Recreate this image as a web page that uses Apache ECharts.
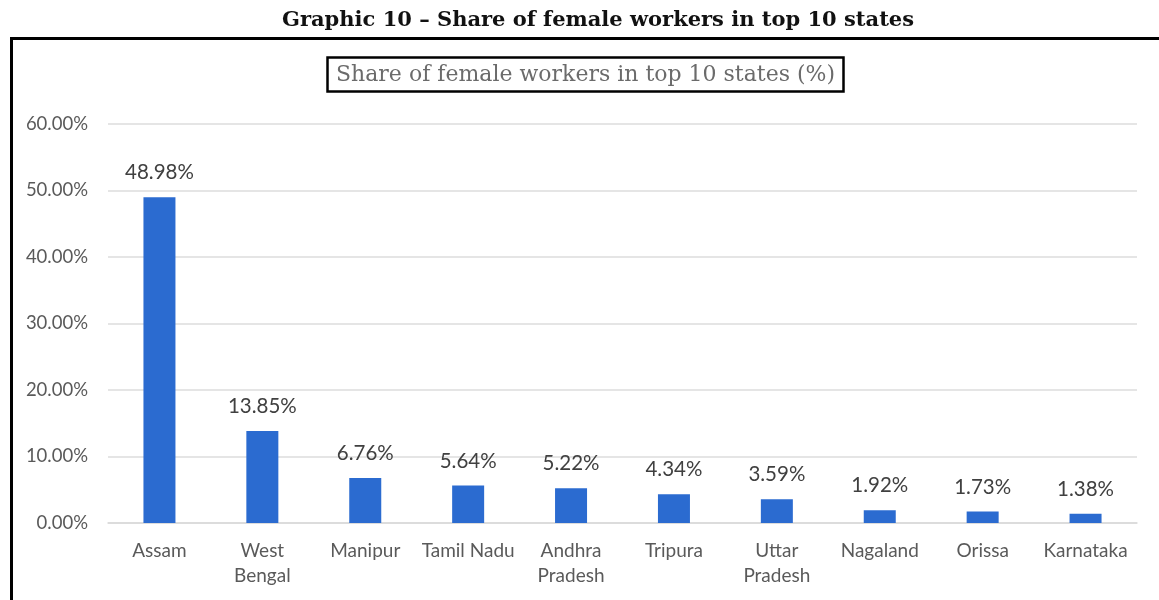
<!DOCTYPE html>
<html>
<head>
<meta charset="utf-8">
<script src="https://cdn.jsdelivr.net/npm/echarts@6/dist/echarts.min.js"></script>
<style>
  html, body { margin: 0; padding: 0; background: #fff; }
  #chart { width: 1159px; height: 600px; }
</style>
</head>
<body>
<div id="chart"></div>
<script>
// Share of female workers, top 10 states (%)
const states = ['Assam', 'West\nBengal', 'Manipur', 'Tamil Nadu', 'Andhra\nPradesh', 'Tripura', 'Uttar\nPradesh', 'Nagaland', 'Orissa', 'Karnataka'];
const sharePct = [48.98, 13.85, 6.76, 5.64, 5.22, 4.34, 3.59, 1.92, 1.73, 1.38];
const yTicks = [0, 10, 20, 30, 40, 50, 60];

const chart = echarts.init(document.getElementById('chart'), null, { renderer: 'canvas' });

const option = {
  backgroundColor: '#ffffff',
  animation: false,
  title: [
    {
      text: 'Graphic 10 – Share of female workers in top 10 states',
      left: 277,
      top: 5,
      textStyle: { fontFamily: 'DejaVu Serif', fontWeight: 'bold', fontSize: 21, color: '#111' }
    },
    {
      text: 'Share of female workers in top 10 states (%)',
      left: 327,
      top: 57,
      padding: [7, 9, 6, 9],
      borderColor: '#000',
      borderWidth: 2.5,
      textStyle: { fontFamily: 'DejaVu Serif', fontWeight: 'normal', fontSize: 22, color: '#6b6b6b' }
    }
  ],
  graphic: [
    {
      type: 'rect',
      silent: true,
      shape: { x: 11.5, y: 38.5, width: 1200, height: 640 },
      style: { fill: 'none', stroke: '#000', lineWidth: 3 }
    }
  ],
  grid: { left: 108, right: 22, top: 124, bottom: 77, containLabel: false },
  xAxis: {
    type: 'category',
    data: states,
    axisLine: { show: true, lineStyle: { color: '#d9d9d9', width: 1.5 } },
    axisTick: { show: false },
    axisLabel: {
      fontFamily: 'Lato',
      fontSize: 19,
      color: '#5a5a5a',
      lineHeight: 25,
      margin: 15,
      interval: 0
    }
  },
  yAxis: {
    type: 'value',
    min: yTicks[0],
    max: yTicks[yTicks.length - 1],
    interval: 10,
    axisLine: { show: false },
    axisTick: { show: false },
    splitLine: { lineStyle: { color: '#dcdcdc', width: 1.5 } },
    axisLabel: {
      fontFamily: 'Lato',
      fontSize: 18.5,
      color: '#5a5a5a',
      margin: 20,
      formatter: v => v.toFixed(2) + '%'
    }
  },
  series: [
    {
      type: 'bar',
      data: sharePct,
      barWidth: 32,
      itemStyle: { color: '#2b6bd0' },
      label: {
        show: true,
        position: 'top',
        distance: 14,
        fontFamily: 'Lato',
        fontSize: 20.5,
        color: '#404040',
        formatter: p => p.value.toFixed(2) + '%'
      }
    }
  ]
};

chart.setOption(option);
</script>
</body>
</html>
